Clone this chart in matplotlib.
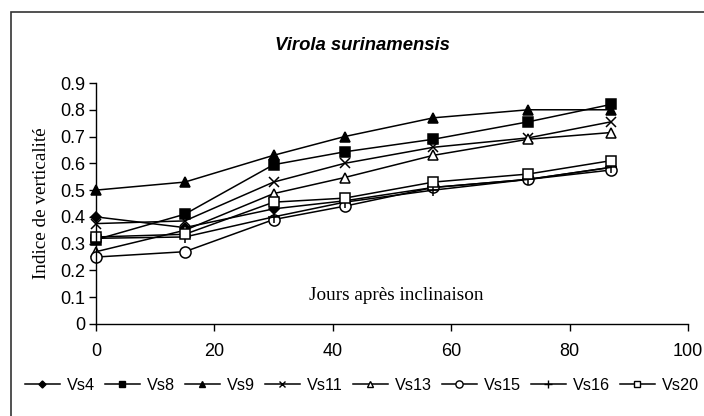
import matplotlib

matplotlib.use("Agg")

import matplotlib.pyplot as plt
from matplotlib.lines import Line2D
from matplotlib.patches import Rectangle

plt.rcParams["font.family"] = ["Liberation Sans", "DejaVu Sans"]

days = [0, 15, 30, 42, 57, 73, 87]

series_names = ["Vs4", "Vs8", "Vs9", "Vs11", "Vs13", "Vs15", "Vs16", "Vs20"]
vs4 = [0.40, 0.36, 0.43, 0.46, 0.51, 0.54, 0.585]
vs8 = [0.315, 0.41, 0.595, 0.643, 0.69, 0.755, 0.82]
vs9 = [0.50, 0.53, 0.63, 0.70, 0.77, 0.80, 0.80]
vs11 = [0.375, 0.385, 0.53, 0.60, 0.66, 0.695, 0.755]
vs13 = [0.27, 0.35, 0.487, 0.547, 0.63, 0.69, 0.715]
vs15 = [0.25, 0.27, 0.39, 0.44, 0.51, 0.54, 0.575]
vs16 = [0.32, 0.325, 0.40, 0.455, 0.50, 0.54, 0.585]
vs20 = [0.325, 0.335, 0.455, 0.47, 0.53, 0.56, 0.61]
series_values = [vs4, vs8, vs9, vs11, vs13, vs15, vs16, vs20]

# marker, face colour, size
styles = [
    ("D", "black", 5.5),
    ("s", "black", 6.5),
    ("^", "black", 7.5),
    ("x", "black", 7.5),
    ("^", "white", 7.5),
    ("o", "white", 8),
    ("+", "black", 9),
    ("s", "white", 7),
]

fig = plt.figure(figsize=(7.04, 4.16), dpi=100)
ax = fig.add_axes([96 / 704, 1 - 324 / 416, (688 - 96) / 704, (324 - 83) / 416])

for name, vals, (mk, fc, ms) in zip(series_names, series_values, styles):
    ax.plot(days, vals, color="black", linewidth=1.1, marker=mk, markersize=ms,
            markerfacecolor=fc, markeredgecolor="black", markeredgewidth=1.1,
            label=name, clip_on=False)

ax.set_xlim(0, 100)
ax.set_ylim(0, 0.9)
ax.set_xticks([0, 20, 40, 60, 80, 100])
ax.set_yticks([i / 10 for i in range(10)])
ax.set_yticklabels(["0"] + [f"{i / 10:.1f}" for i in range(1, 10)])
ax.spines["top"].set_visible(False)
ax.spines["right"].set_visible(False)
ax.tick_params(direction="out", length=5, width=1, labelsize=13, pad=3)
ax.tick_params(axis="x", pad=9)
for sp in ("left", "bottom"):
    ax.spines[sp].set_linewidth(1)

ax.set_ylabel("Indice de verticalité", family="Liberation Serif", fontsize=13.8, labelpad=7)
ax.text(0.507, 0.12, "Jours après inclinaison", transform=ax.transAxes, ha="center",
        va="center", family="Liberation Serif", fontsize=13.8)
fig.text(362 / 704, 1 - 46 / 416, "Virola surinamensis", ha="center", va="center",
         fontsize=13.3, fontweight="bold", fontstyle="italic")

handles = []
for name, (mk, fc, ms) in zip(series_names, styles):
    handles.append(Line2D([0], [0], color="black", linewidth=1.1, marker=mk,
                          markersize=ms * 0.65, markerfacecolor=fc,
                          markeredgecolor="black", markeredgewidth=1))
fig.legend(handles, series_names, loc="center", bbox_to_anchor=(362 / 704, 1 - 385 / 416),
           ncol=8, frameon=False, fontsize=11.7, handlelength=2.15, handletextpad=0.45,
           columnspacing=0.6, borderpad=0, borderaxespad=0)

fig.patches.append(Rectangle((11 / 704, -0.1), 1.2, 1 - 12 / 416 + 0.1,
                             transform=fig.transFigure, fill=False,
                             edgecolor="#333333", linewidth=1.2))

fig.savefig("out.png", dpi=100)
